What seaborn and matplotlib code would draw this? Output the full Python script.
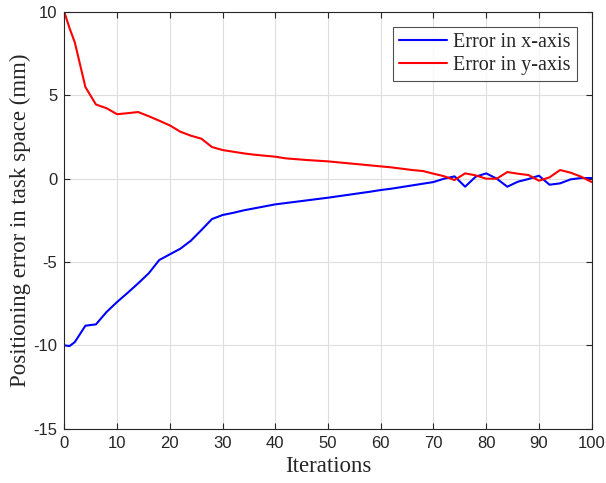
import numpy as np
import pandas as pd
import matplotlib
matplotlib.use("Agg")
import matplotlib.pyplot as plt
import seaborn as sns

iterations = [0, 1, 2, 4, 6, 8, 10, 12, 14, 16, 18, 20, 22, 24, 26, 28, 30, 32, 34, 36, 38, 40,
              42, 44, 46, 48, 50, 52, 54, 56, 58, 60, 62, 64, 66, 68, 70, 72, 74, 76, 78, 80,
              82, 84, 86, 88, 90, 92, 94, 96, 98, 100]
err_x = [-10.0, -10.04, -9.8, -8.82, -8.74, -8.0, -7.4, -6.85, -6.28, -5.68, -4.88, -4.54, -4.2,
         -3.72, -3.08, -2.42, -2.18, -2.05, -1.9, -1.78, -1.66, -1.54, -1.46, -1.38, -1.30, -1.22,
         -1.14, -1.05, -0.96, -0.87, -0.78, -0.68, -0.60, -0.50, -0.40, -0.30, -0.2, 0.0, 0.14,
         -0.48, 0.12, 0.32, 0.0, -0.48, -0.18, -0.02, 0.18, -0.36, -0.28, -0.04, 0.04, 0.04]
err_y = [10.0, 9.03, 8.17, 5.5, 4.45, 4.23, 3.87, 3.93, 4.0, 3.75, 3.48, 3.2, 2.82, 2.58, 2.4,
         1.9, 1.72, 1.62, 1.52, 1.44, 1.38, 1.32, 1.22, 1.17, 1.12, 1.08, 1.04, 0.98, 0.92, 0.86,
         0.80, 0.74, 0.68, 0.60, 0.52, 0.46, 0.30, 0.15, -0.08, 0.32, 0.2, 0.0, 0.0, 0.4, 0.3,
         0.22, -0.12, 0.08, 0.52, 0.36, 0.12, -0.2]
series_names = ["Error in x-axis", "Error in y-axis"]
x_ticks = [0, 10, 20, 30, 40, 50, 60, 70, 80, 90, 100]
y_ticks = [-15, -10, -5, 0, 5, 10]

df = pd.DataFrame({
    "Iterations": iterations * 2,
    "Error": err_x + err_y,
    "Series": [series_names[0]] * len(iterations) + [series_names[1]] * len(iterations),
})

sns.set_style("white")
plt.rcParams["font.family"] = ["Liberation Sans", "DejaVu Sans"]

fig = plt.figure(figsize=(6.06, 4.83), dpi=100)
ax = fig.add_axes([0.1061, 0.1124, 0.8703, 0.8627])

sns.lineplot(data=df, x="Iterations", y="Error", hue="Series",
             palette={series_names[0]: "#0000ff", series_names[1]: "#ff0000"},
             linewidth=1.5, ax=ax, legend=True)

ax.set_xlim(0, 100)
ax.set_ylim(-15, 10)
ax.set_xticks(x_ticks)
ax.set_yticks(y_ticks)
ax.set_xticklabels([str(t) for t in x_ticks], fontsize=12, color="#262626")
ax.set_yticklabels([str(t) for t in y_ticks], fontsize=12, color="#262626")
ax.grid(True, color="#dedede", linewidth=0.8)
ax.set_axisbelow(True)
ax.tick_params(direction="in", length=4, width=0.8, top=True, right=True,
               bottom=True, left=True, colors="#262626", labelcolor="#262626")
ax.tick_params(axis="x", pad=5.5)
ax.tick_params(axis="y", pad=5)
for s in ax.spines.values():
    s.set_visible(True)
    s.set_color("#262626")
    s.set_linewidth(0.8)

ax.set_xlabel("Iterations", fontsize=16.5, family="Liberation Serif", labelpad=3)
ax.set_ylabel("Positioning error in task space (mm)", fontsize=16.5, family="Liberation Serif", labelpad=2)

leg = ax.legend(loc="upper right", bbox_to_anchor=(0.9721, 0.9633),
                prop={"family": "Liberation Serif", "size": 14.5},
                frameon=True, fancybox=False, edgecolor="#262626",
                handlelength=2.4, handletextpad=0.3, borderpad=0.3, labelspacing=0.15,
                borderaxespad=0)
leg.get_frame().set_linewidth(0.8)
for line in leg.get_lines():
    line.set_linewidth(1.5)

fig.savefig("out.png", dpi=100)
